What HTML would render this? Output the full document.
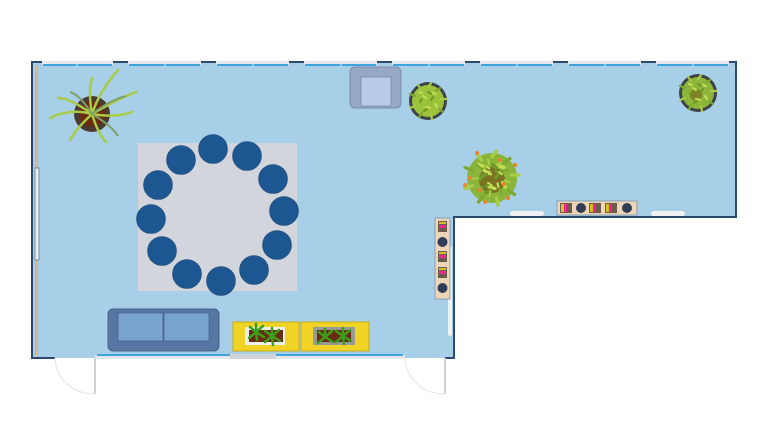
<!DOCTYPE html>
<html><head><meta charset="utf-8"><style>html,body{margin:0;padding:0;background:#fff}svg{display:block}</style></head><body>
<svg width="768" height="432" viewBox="0 0 768 432" xmlns="http://www.w3.org/2000/svg">
<defs>
<g id="lf"><g stroke-width="2.2" stroke-linecap="round" fill="none">
<path d="M0,-14 l3,-4" stroke="#a8cc45"/><path d="M8,-10 l4,-3" stroke="#7fa830"/><path d="M13,-2 l5,0" stroke="#a8cc45"/><path d="M11,8 l4,3" stroke="#7fa830"/><path d="M3,13 l1,5" stroke="#a8cc45"/><path d="M-6,12 l-3,4" stroke="#7fa830"/><path d="M-13,5 l-5,2" stroke="#a8cc45"/><path d="M-13,-5 l-5,-2" stroke="#7fa830"/><path d="M-7,-12 l-3,-4" stroke="#a8cc45"/>
<path d="M-5,-5 l3,2" stroke="#c3dd55"/><path d="M5,-4 l-2,3" stroke="#6e9a2a"/><path d="M-2,6 l4,1" stroke="#c3dd55"/><path d="M7,3 l2,3" stroke="#c3dd55"/><path d="M-8,1 l2,-3" stroke="#6e9a2a"/><path d="M0,-9 l3,2" stroke="#6e9a2a"/><path d="M-9,-9 l3,1" stroke="#c3dd55"/><path d="M8,-7 l-3,-1" stroke="#c3dd55"/><path d="M-4,10 l3,-2" stroke="#6e9a2a"/>
</g></g>
</defs>
<path d="M32,62 H736 V217 H454 V358 H32 Z" fill="#a7cfe8"/>
<path d="M55,358 H32 V62 H736 V217 H454 V358 H445" fill="none" stroke="#2c4a6e" stroke-width="2"/>
<g fill="#e4e8ec">
<rect x="42" y="61" width="71" height="4"/><rect x="128" y="61" width="73" height="4"/><rect x="216" y="61" width="73" height="4"/><rect x="304" y="61" width="73" height="4"/><rect x="392" y="61" width="73" height="4"/><rect x="480" y="61" width="73" height="4"/><rect x="568" y="61" width="73" height="4"/><rect x="656" y="61" width="73" height="4"/>
</g>
<g stroke="#3fa3dc" stroke-width="2">
<line x1="43" y1="65" x2="112" y2="65"/><line x1="129" y1="65" x2="200" y2="65"/><line x1="217" y1="65" x2="288" y2="65"/><line x1="305" y1="65" x2="376" y2="65"/><line x1="393" y1="65" x2="464" y2="65"/><line x1="481" y1="65" x2="552" y2="65"/><line x1="569" y1="65" x2="640" y2="65"/><line x1="657" y1="65" x2="728" y2="65"/>
</g>
<g stroke="#e4e8ec" stroke-width="1"><line x1="77" y1="62" x2="77" y2="66"/><line x1="165" y1="62" x2="165" y2="66"/><line x1="253" y1="62" x2="253" y2="66"/><line x1="341" y1="62" x2="341" y2="66"/><line x1="429" y1="62" x2="429" y2="66"/><line x1="517" y1="62" x2="517" y2="66"/><line x1="605" y1="62" x2="605" y2="66"/><line x1="693" y1="62" x2="693" y2="66"/></g>
<rect x="35" y="65" width="3" height="291" fill="#d9b48c"/>
<rect x="35" y="168" width="4" height="92" fill="#e8ecf0" stroke="#6b7a8a" stroke-width="0.8"/>
<rect x="95" y="355" width="310" height="4" fill="#e4e8ec"/>
<line x1="97" y1="355" x2="403" y2="355" stroke="#3fa3dc" stroke-width="2"/>
<rect x="230" y="354" width="46" height="5" fill="#d0d4d8"/>
<line x1="95" y1="358" x2="95" y2="394" stroke="#cfd3d6" stroke-width="2"/>
<path d="M55,358 A40,36 0 0 0 95,394" fill="none" stroke="#e2e4e6" stroke-width="1"/>
<line x1="445" y1="358" x2="445" y2="394" stroke="#cfd3d6" stroke-width="2"/>
<path d="M405,358 A40,36 0 0 0 445,394" fill="none" stroke="#e2e4e6" stroke-width="1"/>
<rect x="448" y="246" width="4" height="90" rx="2" fill="#eef0f2"/>
<rect x="510" y="211" width="34" height="5" rx="2.5" fill="#eef0f2"/>
<rect x="651" y="211" width="34" height="5" rx="2.5" fill="#eef0f2"/>
<rect x="138" y="143" width="159" height="148" fill="#d2d6dc"/>
<g fill="#1c5792" stroke="#2a4f78" stroke-width="0.6">
<circle cx="213" cy="149" r="14.5"/><circle cx="247" cy="156" r="14.5"/><circle cx="273" cy="179" r="14.5"/><circle cx="284" cy="211" r="14.5"/><circle cx="277" cy="245" r="14.5"/><circle cx="254" cy="270" r="14.5"/><circle cx="221" cy="281" r="14.5"/><circle cx="187" cy="274" r="14.5"/><circle cx="162" cy="251" r="14.5"/><circle cx="151" cy="219" r="14.5"/><circle cx="158" cy="185" r="14.5"/><circle cx="181" cy="160" r="14.5"/>
</g>
<rect x="108" y="309" width="111" height="42" rx="5" fill="#5677a3" stroke="#46628a" stroke-width="1"/>
<rect x="118" y="313" width="45" height="28" fill="#79a3cf" stroke="#46628a" stroke-width="0.8"/>
<rect x="164" y="313" width="45" height="28" fill="#79a3cf" stroke="#46628a" stroke-width="0.8"/>
<rect x="350" y="67" width="51" height="41" rx="5" fill="#97a8c4" stroke="#7a8cab" stroke-width="1"/>
<rect x="361" y="77" width="30" height="29" fill="#b7cbe6" stroke="#7a8cab" stroke-width="0.8"/>
<g>
<rect x="233" y="322" width="66" height="29" fill="#f0d324" stroke="#c9ac1a" stroke-width="1"/>
<rect x="245" y="327" width="40" height="18" fill="#eee"/>
<rect x="249" y="330" width="34" height="12" fill="#6b2b10"/>
<rect x="301" y="322" width="68" height="29" fill="#f0d324" stroke="#c9ac1a" stroke-width="1"/>
<rect x="313" y="327" width="42" height="18" fill="#999"/>
<rect x="317" y="330" width="34" height="12" fill="#6b2b10"/>
<g stroke="#3aa01a" stroke-width="2.5" stroke-linecap="round">
<path d="M256,332 l-6,-5 M256,332 l7,-6 M256,332 l-7,6 M256,332 l8,5 M256,332 l0,-8 M256,332 l1,8"/>
<path d="M272,336 l-7,-5 M272,336 l7,-6 M272,336 l-7,6 M272,336 l8,5 M272,336 l0,-8 M272,336 l1,9"/>
<path d="M325,337 l-6,-5 M325,337 l7,-6 M325,337 l-7,6 M325,337 l8,5 M325,337 l0,-8"/>
<path d="M343,336 l-7,-5 M343,336 l7,-6 M343,336 l-7,6 M343,336 l8,5 M343,336 l0,-8 M343,336 l1,8"/>
</g>
</g>
<rect x="435" y="218" width="15" height="81" fill="#edd6b8" stroke="#7d8ea6" stroke-width="0.8"/>
<g fill="#6b5b4a"><rect x="438" y="221" width="9" height="11"/><rect x="438" y="251" width="9" height="11"/><rect x="438" y="267" width="9" height="11"/></g>
<g fill="#e8288f"><rect x="439" y="225" width="7" height="3"/><rect x="439" y="255" width="7" height="3"/><rect x="439" y="271" width="7" height="3"/></g>
<g fill="#d8c020"><rect x="439" y="222" width="7" height="2"/><rect x="439" y="252" width="7" height="2"/><rect x="439" y="268" width="7" height="2"/></g>
<g fill="#333c55"><circle cx="442.5" cy="242" r="5"/><circle cx="442.5" cy="288" r="5"/></g>
<rect x="557" y="201" width="80" height="14" fill="#edd6b8" stroke="#7d8ea6" stroke-width="0.8"/>
<g fill="#6b5b4a"><rect x="560" y="203" width="12" height="10"/><rect x="589" y="203" width="12" height="10"/><rect x="605" y="203" width="12" height="10"/></g>
<g fill="#d8c020"><rect x="561" y="204" width="3" height="8"/><rect x="590" y="204" width="3" height="8"/><rect x="606" y="204" width="3" height="8"/></g>
<g fill="#e8288f"><rect x="564" y="204" width="3" height="8"/><rect x="593" y="204" width="3" height="8"/><rect x="609" y="204" width="3" height="8"/></g>
<g fill="#333c55"><circle cx="581" cy="208" r="5"/><circle cx="627" cy="208" r="5"/></g>
<circle cx="92" cy="114" r="18" fill="#4a3a30"/><circle cx="92" cy="114" r="13" fill="#6b2b10"/>
<g stroke="#a8cc45" stroke-width="2.5" fill="none" stroke-linecap="round">
<path d="M92,114 Q100,90 118,70"/><path d="M92,114 Q120,98 136,92"/><path d="M92,114 Q70,108 50,118"/><path d="M92,114 Q75,130 70,140"/><path d="M92,114 Q98,134 106,142"/><path d="M92,114 Q88,92 92,78"/><path d="M92,114 Q116,118 132,112"/><path d="M92,114 Q70,98 58,98"/>
</g>
<g stroke="#7fa06a" stroke-width="2" fill="none"><path d="M92,114 Q80,95 70,92"/><path d="M92,114 Q112,126 118,136"/><path d="M92,114 Q110,100 126,96"/></g>
<circle cx="428" cy="101" r="19" fill="#3f4248"/><circle cx="428" cy="101" r="16" fill="#9cc23c"/>
<use href="#lf" x="428" y="101"/>
<circle cx="698" cy="93" r="19" fill="#3f4248"/><circle cx="698" cy="93" r="16" fill="#8cb53a"/><circle cx="696" cy="95" r="6" fill="#6b3a10" opacity="0.4"/>
<use href="#lf" x="698" y="93"/>
<circle cx="492" cy="178" r="25" fill="#8ab53a"/><circle cx="492" cy="180" r="13" fill="#6b3a10" opacity="0.55"/>
<use href="#lf" x="492" y="178" transform="translate(492 178) scale(1.5) translate(-492 -178)"/>
<use href="#lf" x="492" y="178" transform="translate(492 178) rotate(20) translate(-492 -178)"/>
<g fill="#e8862a"><circle cx="477" cy="153" r="2"/><circle cx="470" cy="178" r="2"/><circle cx="515" cy="165" r="2"/><circle cx="508" cy="198" r="2"/><circle cx="485" cy="202" r="2"/><circle cx="465" cy="185" r="2"/><circle cx="500" cy="160" r="2"/><circle cx="480" cy="190" r="2"/><circle cx="504" cy="184" r="2"/></g>
</svg>
</body></html>
